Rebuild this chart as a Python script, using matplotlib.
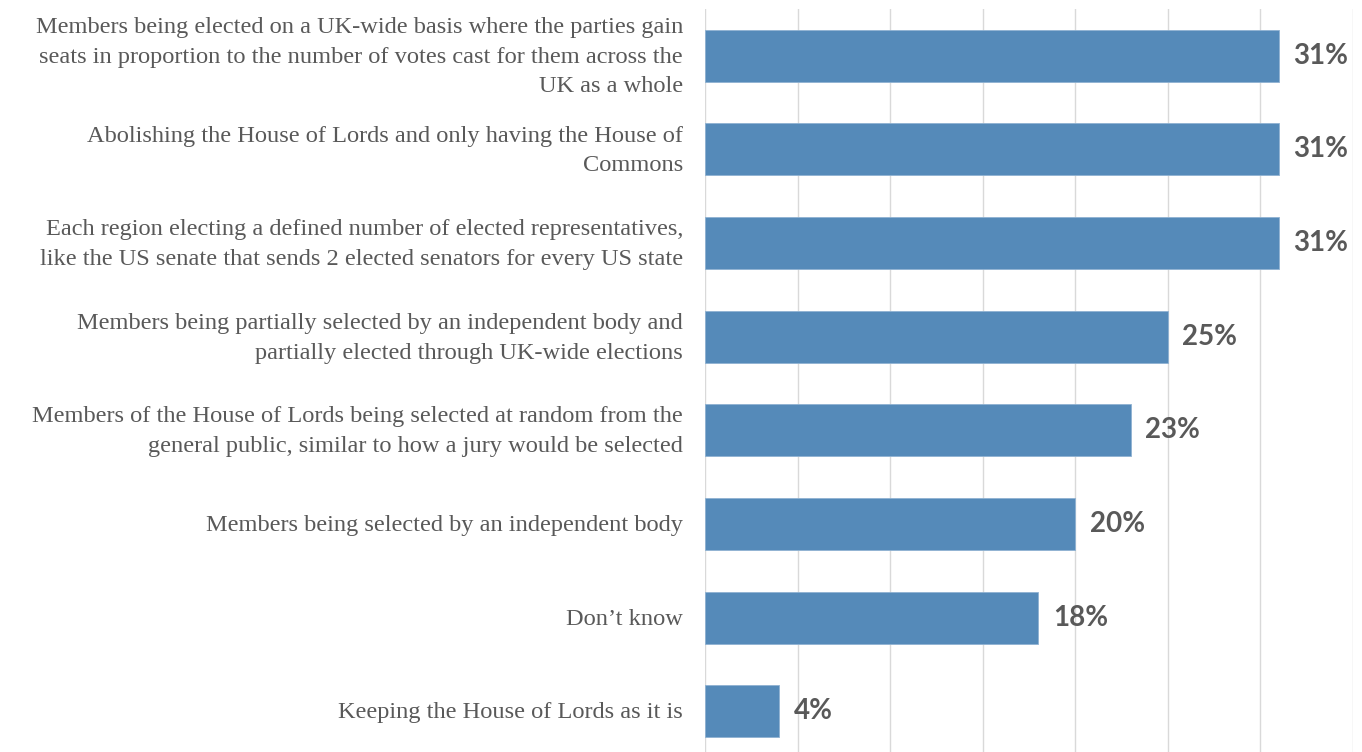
import matplotlib
matplotlib.use("Agg")
import matplotlib.pyplot as plt
from matplotlib.transforms import ScaledTranslation

# options, top to bottom, and share of respondents (%)
options = [
    "Members being elected on a UK-wide basis where the parties gain\nseats in proportion to the number of votes cast for them across the\nUK as a whole",
    "Abolishing the House of Lords and only having the House of\nCommons",
    "Each region electing a defined number of elected representatives,\nlike the US senate that sends 2 elected senators for every US state",
    "Members being partially selected by an independent body and\npartially elected through UK-wide elections",
    "Members of the House of Lords being selected at random from the\ngeneral public, similar to how a jury would be selected",
    "Members being selected by an independent body",
    "Don\u2019t know",
    "Keeping the House of Lords as it is",
]
values = [31, 31, 31, 25, 23, 20, 18, 4]

bar_color = "#558AB9"
text_gray = "#595959"

fig = plt.figure(figsize=(13.62, 7.52), dpi=100)
ax = fig.add_axes([705 / 1362, 1 - 758 / 752, 648 / 1362, 749 / 752])

ypos = list(range(len(options)))
bars = ax.barh(ypos, values, height=0.555, color=bar_color,
               edgecolor="#8FB2D2", linewidth=0.6, zorder=3)

ax.set_xlim(0, 35)
ax.set_ylim(len(options) - 0.5, -0.5)
ax.set_xticks(range(0, 36, 5))
ax.xaxis.grid(True, color="#D9D9D9", linewidth=1.0, zorder=0)
ax.tick_params(axis="x", length=0, labelbottom=False)
ax.set_yticks([])
for s in ax.spines.values():
    s.set_visible(False)

# category labels, nudged left of the axis
lab_tr = ax.get_yaxis_transform() + ScaledTranslation(-0.22, -0.015, fig.dpi_scale_trans)
for y, lab in zip(ypos, options):
    ax.text(0, y, lab, transform=lab_tr, family="Liberation Serif",
            fontsize=17.6, color=text_gray, ha="right", va="center",
            linespacing=1.54)

for b, v in zip(bars, values):
    ax.annotate(f"{v}%", (b.get_width(), b.get_y() + b.get_height() / 2),
                xytext=(10.5, 0), textcoords="offset points",
                va="center", ha="left", family="Lato", fontweight="bold",
                fontsize=20, color=text_gray)

fig.savefig("out.png", dpi=100)
